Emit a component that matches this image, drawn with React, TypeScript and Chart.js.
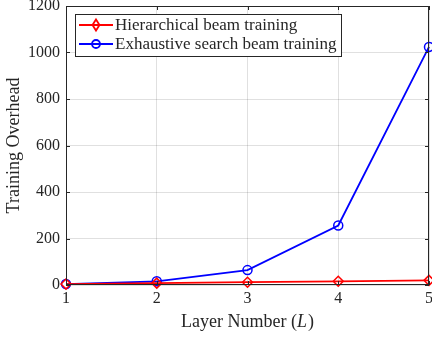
import React, { useEffect, useRef } from "react";
import { Chart, registerables } from "chart.js";

Chart.register(...registerables);

const layers = [1, 2, 3, 4, 5];
const hierarchical = [4, 8, 12, 16, 20];
const exhaustive = [4, 16, 64, 256, 1024];
const yTicks = [0, 200, 400, 600, 800, 1000, 1200];

const seriesNames = ["Hierarchical beam training", "Exhaustive search beam training"];
const FONT = "'Liberation Serif', 'DejaVu Serif', serif";
const INK = "#262626";

const frame = {
  id: "frame",
  afterDatasetsDraw(chart: any) {
    const { ctx, chartArea: a, scales } = chart;
    ctx.save();
    // axes box
    ctx.strokeStyle = INK;
    ctx.lineWidth = 1;
    ctx.strokeRect(a.left + 0.5, a.top + 0.5, a.right - a.left - 1, a.bottom - a.top - 1);
    // inward tick marks
    const tl = 4;
    ctx.beginPath();
    layers.forEach((v) => {
      const x = Math.round(scales.x.getPixelForValue(v)) + 0.5;
      ctx.moveTo(x, a.bottom);
      ctx.lineTo(x, a.bottom - tl);
      ctx.moveTo(x, a.top);
      ctx.lineTo(x, a.top + tl);
    });
    yTicks.forEach((v) => {
      const y = Math.round(scales.y.getPixelForValue(v)) + 0.5;
      ctx.moveTo(a.left, y);
      ctx.lineTo(a.left + tl, y);
      ctx.moveTo(a.right, y);
      ctx.lineTo(a.right - tl, y);
    });
    ctx.stroke();

    // legend
    const lx = 75, ly = 14, lw = 266, lh = 42;
    ctx.fillStyle = "#ffffff";
    ctx.fillRect(lx, ly, lw, lh);
    ctx.strokeStyle = INK;
    ctx.strokeRect(lx + 0.5, ly + 0.5, lw, lh);
    const rows = [
      { color: "#ff0000", shape: "diamond", y: ly + 11 },
      { color: "#0000ff", shape: "circle", y: ly + 30 },
    ];
    rows.forEach((r, i) => {
      ctx.strokeStyle = r.color;
      ctx.lineWidth = 1.8;
      ctx.beginPath();
      ctx.moveTo(lx + 4, r.y);
      ctx.lineTo(lx + 38, r.y);
      ctx.stroke();
      const cx = lx + 21;
      ctx.beginPath();
      if (r.shape === "circle") {
        ctx.arc(cx, r.y, 4, 0, Math.PI * 2);
      } else {
        ctx.moveTo(cx, r.y - 5.5);
        ctx.lineTo(cx + 3.5, r.y);
        ctx.lineTo(cx, r.y + 5.5);
        ctx.lineTo(cx - 3.5, r.y);
        ctx.closePath();
      }
      ctx.stroke();
      ctx.fillStyle = INK;
      ctx.font = `17px ${FONT}`;
      ctx.textBaseline = "middle";
      ctx.textAlign = "left";
      ctx.fillText(seriesNames[i], lx + 40, r.y + 1);
    });

    // axis titles
    const TF = `18px ${FONT}`;
    const TFI = `italic 18px ${FONT}`;
    ctx.fillStyle = INK;
    ctx.textBaseline = "alphabetic";
    const main = "Layer Number (";
    ctx.font = TF;
    const w1 = ctx.measureText(main).width;
    ctx.font = TFI;
    const w2 = ctx.measureText("L").width;
    ctx.font = TF;
    const w3 = ctx.measureText(")").width;
    const cxT = (a.left + a.right) / 2;
    const x0 = cxT - (w1 + w2 + w3 + 1) / 2;
    const yT = 327;
    ctx.textAlign = "left";
    ctx.fillText(main, x0, yT);
    ctx.font = TFI;
    ctx.fillText("L", x0 + w1, yT);
    ctx.font = TF;
    ctx.fillText(")", x0 + w1 + w2 + 1, yT);

    ctx.translate(19, (a.top + a.bottom) / 2);
    ctx.rotate(-Math.PI / 2);
    ctx.textAlign = "center";
    ctx.fillText("Training Overhead", 0, 0);
    ctx.restore();
  },
};

export default function App() {
  const ref = useRef<HTMLCanvasElement>(null);
  useEffect(() => {
    document.body.style.margin = "0";
    const chart = new Chart(ref.current!, {
      type: "line",
      data: {
        datasets: [
          {
            label: seriesNames[0],
            data: layers.map((l, i) => ({ x: l, y: hierarchical[i] })),
            borderColor: "#ff0000",
            backgroundColor: "rgba(0,0,0,0)",
            borderWidth: 1.8,
            pointStyle: "rectRot",
            pointRadius: 5,
            pointBorderWidth: 1.5,
            pointBorderColor: "#ff0000",
            pointBackgroundColor: "rgba(0,0,0,0)",
            clip: false,
          },
          {
            label: seriesNames[1],
            data: layers.map((l, i) => ({ x: l, y: exhaustive[i] })),
            borderColor: "#0000ff",
            backgroundColor: "rgba(0,0,0,0)",
            borderWidth: 1.8,
            pointStyle: "circle",
            pointRadius: 4.5,
            pointBorderWidth: 1.5,
            pointBorderColor: "#0000ff",
            pointBackgroundColor: "rgba(0,0,0,0)",
            clip: false,
          },
        ],
      },
      options: {
        animation: false,
        responsive: false,
        events: [],
        layout: { autoPadding: false, padding: { top: 6, right: 3, left: 0, bottom: 0 } },
        plugins: { legend: { display: false }, tooltip: { enabled: false } },
        scales: {
          x: {
            type: "linear",
            min: 1,
            max: 5,
            afterFit: (s: any) => {
              s.height = 52;
              s.paddingLeft = 0;
              s.paddingRight = 0;
            },
            afterBuildTicks: (s: any) => { s.ticks = layers.map((v) => ({ value: v })); },
            grid: { color: "rgba(0,0,0,0.12)", drawTicks: false },
            border: { display: false },
            ticks: { color: INK, font: { family: FONT, size: 16 }, padding: 4, maxRotation: 0, callback: (v: any) => String(v) },
          },
          y: {
            min: 0,
            max: 1200,
            afterFit: (s: any) => {
              s.width = 66;
              s.paddingTop = 0;
              s.paddingBottom = 0;
            },
            afterBuildTicks: (s: any) => { s.ticks = yTicks.map((v) => ({ value: v })); },
            grid: { color: "rgba(0,0,0,0.12)", drawTicks: false },
            border: { display: false },
            ticks: { color: INK, font: { family: FONT, size: 16 }, padding: 6, callback: (v: any) => String(v) },
          },
        },
      },
      plugins: [frame],
    });
    return () => chart.destroy();
  }, []);
  return (
    <div style={{ position: "absolute", left: 0, top: 0, width: 432, height: 337, background: "#fff" }}>
      <canvas ref={ref} width={432} height={337} />
    </div>
  );
}
